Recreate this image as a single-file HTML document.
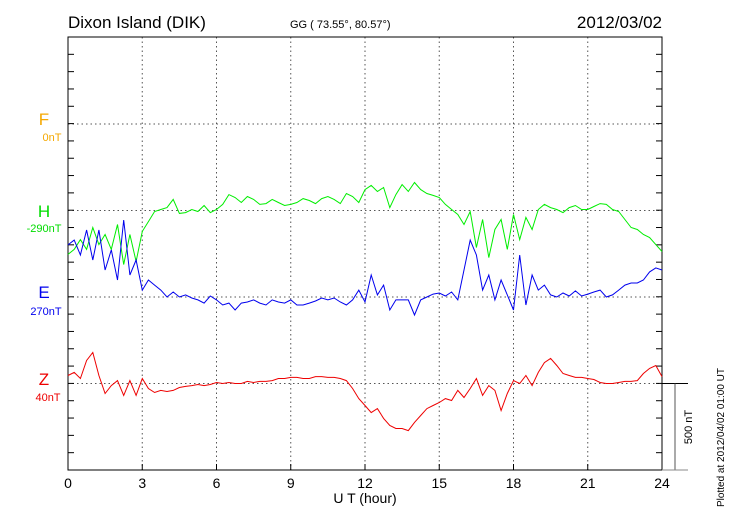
<!DOCTYPE html>
<html><head><meta charset="utf-8"><style>
body{margin:0;background:#fff;width:730px;height:520px;overflow:hidden}
svg text{font-family:"Liberation Sans",sans-serif}
</style></head><body>
<svg id="c" width="730" height="520">
<text x="68" y="28" font-size="17">Dixon Island (DIK)</text>
<text x="290" y="28" font-size="11">GG ( 73.55°,  80.57°)</text>
<text x="662" y="28" font-size="17" text-anchor="end">2012/03/02</text>
<text x="365" y="503" font-size="14" text-anchor="middle">U T (hour)</text>
<text transform="translate(724,507) rotate(-90)" font-size="10">Plotted at 2012/04/02 01:00 UT</text>
<g id="labels">
<text x="44" y="125" font-size="17" fill="#f5a800" text-anchor="middle">F</text>
<text x="52" y="141" font-size="11" fill="#f5a800" text-anchor="middle">0nT</text>
<text x="44" y="217" font-size="17" fill="#00dd00" text-anchor="middle">H</text>
<text x="44" y="232" font-size="11" fill="#00dd00" text-anchor="middle">-290nT</text>
<text x="44" y="298" font-size="17" fill="#0000ee" text-anchor="middle">E</text>
<text x="46" y="315" font-size="11" fill="#0000ee" text-anchor="middle">270nT</text>
<text x="44" y="385" font-size="17" fill="#ee0000" text-anchor="middle">Z</text>
<text x="48" y="401" font-size="11" fill="#ee0000" text-anchor="middle">40nT</text>
</g>
<text transform="translate(692,427) rotate(-90)" font-size="11" text-anchor="middle">500 nT</text>
</svg>
<script>
const hoursTicks=[0,3,6,9,12,15,18,21,24];
const stepHours=0.25;
const scaleNT=500;
const H_nT=[-254,-225,-168,-225,-98,-197,-139,-225,-81,-312,-139,-295,-121,-64,-6,6,17,64,-17,-12,6,-6,29,-12,6,35,92,75,46,81,64,35,40,64,46,29,35,46,69,58,40,69,81,64,40,98,81,46,121,145,110,133,17,92,150,110,162,121,98,87,75,35,6,-23,-81,-6,-214,-52,-272,-110,-52,-225,-23,-168,-40,-110,6,35,17,6,-12,17,29,6,6,23,40,35,6,-6,-52,-98,-110,-139,-156,-197,-237];
const E_nT=[301,329,243,387,214,387,156,272,98,445,127,214,40,98,69,40,0,29,0,12,-6,-17,-35,6,-17,-46,-35,-75,-35,-29,-17,-35,-46,-17,-29,-35,-17,-46,-46,-35,-23,-6,-17,-6,-29,-46,-17,40,-29,127,12,69,-75,-17,-17,-17,-104,-17,0,17,23,6,29,-17,156,329,243,40,127,-17,98,12,-75,243,-46,127,40,69,12,0,23,6,35,6,17,29,40,0,12,40,69,81,81,98,145,168,156];
const Z_nT=[46,64,29,133,179,46,-58,-12,17,-69,17,-69,29,-29,-52,-40,-46,-40,-23,-17,-12,-6,-12,-6,6,0,6,0,0,12,6,12,12,17,29,29,35,35,29,29,40,40,35,35,29,17,-29,-87,-127,-168,-145,-202,-243,-260,-260,-272,-225,-185,-145,-127,-110,-87,-98,-40,-81,-29,29,-69,-12,-40,-156,-58,17,0,46,-12,64,121,145,104,58,46,35,35,29,23,6,0,0,6,12,12,17,58,87,104,40];
const svg=document.getElementById('c');
const NS='http://www.w3.org/2000/svg';
const X0=68,X1=662,Y0=37,Y1=470;
const pxPerNT=86.5/scaleNT;
function xs(h){return X0+(X1-X0)*h/24;}
function ys(v,base){return base-v*pxPerNT;}
function mk(t,a){const e=document.createElementNS(NS,t);for(const k in a)e.setAttribute(k,a[k]);svg.appendChild(e);return e;}
const gridY=[124,210.5,297,383.5];
gridY.forEach(function(y,i){
 const l=mk('line',{x1:X0,x2:X1,y1:y,y2:y,stroke:'#555','stroke-dasharray':'1.5,3'});
 
 
});
hoursTicks.forEach(function(h){
 const x=xs(h);
 if(h>0&&h<24){const l=mk('line',{x1:x,x2:x,y1:Y0,y2:Y1,stroke:'#555','stroke-dasharray':'1.5,3'});
 
 }
 const tk=mk('line',{x1:x,x2:x,y1:Y1,y2:Y1-6,stroke:'#000'});
 
 
 const t=mk('text',{x:x,y:488,'font-size':14,'text-anchor':'middle'});
 t.textContent=h;
 
 
});
for(let y=Y0+(Y1-Y0)/25;y<Y1-1;y+=(Y1-Y0)/25){
 const a=mk('line',{x1:X0,x2:X0+6,y1:y,y2:y,stroke:'#000'});
 
 
 const b=mk('line',{x1:X1-6,x2:X1,y1:y,y2:y,stroke:'#000'});
 
 
}
const fr=mk('rect',{x:X0,y:Y0,width:X1-X0,height:Y1-Y0,fill:'none',stroke:'#000'});


const s1=mk('line',{x1:X1,x2:688,y1:383.5,y2:383.5,stroke:'#000'});


const s2=mk('line',{x1:675,x2:675,y1:383.5,y2:470,stroke:'#555'});


const s3=mk('line',{x1:X1,x2:688,y1:470,y2:470,stroke:'#888'});


function series(arr,base,color,name){
 const pts=arr.map(function(v,i){return xs(i*stepHours).toFixed(1)+','+ys(v,base).toFixed(1);}).join(' ');
 const p=mk('polyline',{points:pts,fill:'none',stroke:color,'stroke-width':1});
 
 
}
series(H_nT,210.5,'#00ee00','h-series');
series(E_nT,297,'#0000ee','e-series');
series(Z_nT,383.5,'#ee0000','z-series');
</script>
</body></html>
